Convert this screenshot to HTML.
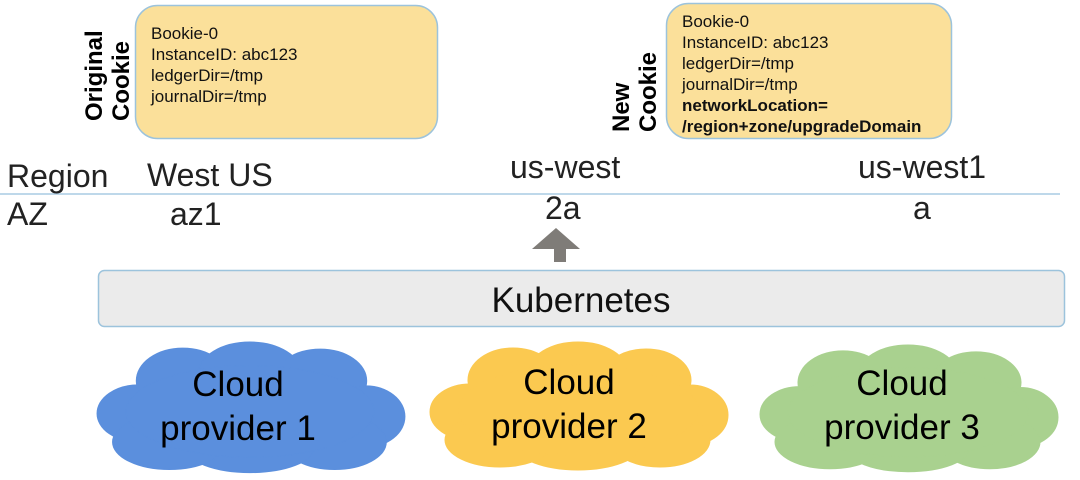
<!DOCTYPE html>
<html><head><meta charset="utf-8"><style>
html,body{margin:0;padding:0;background:#fff;}
svg{display:block;font-family:"Liberation Sans",sans-serif;}
</style></head><body>
<svg width="1080" height="480" viewBox="0 0 1080 480" xmlns="http://www.w3.org/2000/svg">
<defs>
<g id="cl">
<ellipse cx="42" cy="72" rx="40" ry="28"/>
<ellipse cx="85" cy="40" rx="45" ry="32"/>
<ellipse cx="150" cy="33" rx="50" ry="31"/>
<ellipse cx="218" cy="40" rx="45" ry="31"/>
<ellipse cx="262" cy="75" rx="38" ry="30"/>
<ellipse cx="232" cy="100" rx="50" ry="27"/>
<ellipse cx="150" cy="106" rx="62" ry="24"/>
<ellipse cx="72" cy="100" rx="55" ry="27"/>
<ellipse cx="150" cy="70" rx="120" ry="45"/>
</g>
</defs>
<rect x="135.5" y="5.5" width="302" height="133" rx="22" fill="#fbe09a" stroke="#9cc3dc" stroke-width="1.5"/>
<rect x="666.5" y="3.5" width="285" height="135" rx="22" fill="#fbe09a" stroke="#9cc3dc" stroke-width="1.5"/>
<g font-size="17" fill="#111">
<text x="151" y="39">Bookie-0</text>
<text x="151" y="60">InstanceID: abc123</text>
<text x="151" y="81">ledgerDir=/tmp</text>
<text x="151" y="102">journalDir=/tmp</text>
<text x="682" y="27">Bookie-0</text>
<text x="682" y="48">InstanceID: abc123</text>
<text x="682" y="69">ledgerDir=/tmp</text>
<text x="682" y="90">journalDir=/tmp</text>
<text x="682" y="111" font-weight="bold">networkLocation=</text>
<text x="682" y="132" font-weight="bold">/region+zone/upgradeDomain</text>
</g>
<g font-size="24" font-weight="bold" fill="#000">
<text transform="translate(102,121) rotate(-90)">Original</text>
<text transform="translate(129,121) rotate(-90)">Cookie</text>
<text transform="translate(629,132) rotate(-90)">New</text>
<text transform="translate(656,132) rotate(-90)">Cookie</text>
</g>
<line x1="0" y1="194" x2="1060" y2="194" stroke="#a9cbe3" stroke-width="1.5"/>
<g font-size="32" fill="#222">
<text x="7" y="187">Region</text>
<text x="147" y="186">West US</text>
<text x="510" y="178">us-west</text>
<text x="858" y="178">us-west1</text>
<text x="7" y="225">AZ</text>
<text x="170" y="225">az1</text>
<text x="545" y="219">2a</text>
<text x="913" y="219">a</text>
</g>
<polygon points="532,249 556,228 580,249 566,249 566,262 554,262 554,249" fill="#7f7c78"/>
<rect x="98.5" y="270.5" width="966" height="56" rx="6" fill="#ebebeb" stroke="#9cc3dc" stroke-width="1.5"/>
<text x="581" y="312" font-size="35" text-anchor="middle" fill="#111">Kubernetes</text>
<use href="#cl" transform="translate(95,340) scale(1.033,1.02)" fill="#5b8fdd" stroke="#5b8fdd"/>
<use href="#cl" transform="translate(428,340) scale(1.0,1.0)" fill="#fbc950" stroke="#fbc950"/>
<use href="#cl" transform="translate(758,343) scale(1.0,0.99)" fill="#a9d18f" stroke="#a9d18f"/>
<g font-size="35" fill="#000" text-anchor="middle">
<text x="238" y="396">Cloud</text>
<text x="238" y="440">provider 1</text>
<text x="569" y="394">Cloud</text>
<text x="569" y="438">provider 2</text>
<text x="902" y="395">Cloud</text>
<text x="902" y="439">provider 3</text>
</g>
</svg>
</body></html>
